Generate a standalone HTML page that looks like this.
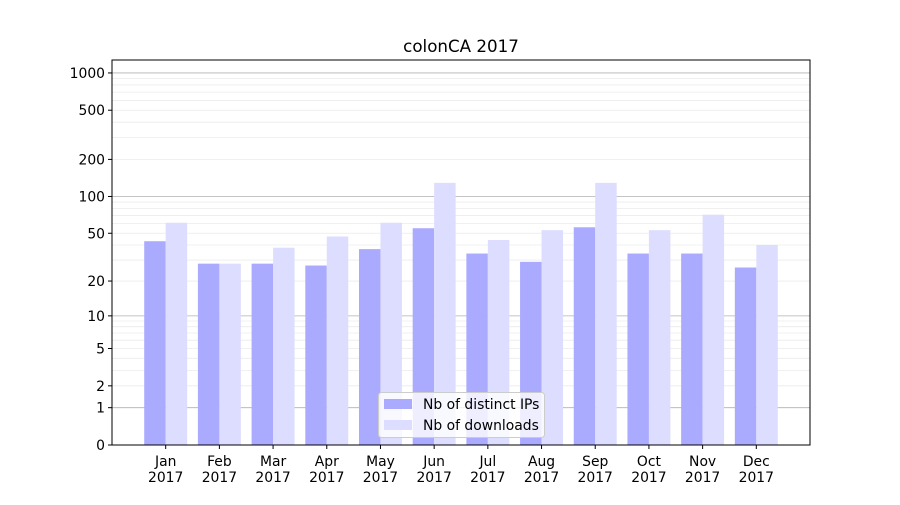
<!DOCTYPE html>
<html><head><meta charset="utf-8"><style>
body{margin:0;background:#fff}
svg{font-family:"DejaVu Sans","Liberation Sans",sans-serif}
</style></head><body>
<svg id="chart" width="900" height="500" viewBox="0 0 900 500">
<rect width="900" height="500" fill="#fff"/>
<text x="461" y="52" font-size="16.7" text-anchor="middle">colonCA 2017</text>
<g id="grid"></g><g id="bars"></g><g id="yticks"></g><g id="xticks"></g>
<rect x="112" y="60" width="698" height="385" fill="none" stroke="#000" stroke-width="1"/>
<g>
<rect x="378.5" y="392.5" width="166" height="45" rx="3" fill="#fff" fill-opacity="0.8" stroke="#ccc"/>
<rect x="384" y="399" width="28" height="10" fill="#aaaaff"/>
<text x="423" y="409" font-size="13.9">Nb of distinct IPs</text>
<rect x="384" y="420" width="28" height="10" fill="#ddddff"/>
<text x="423" y="430" font-size="13.9">Nb of downloads</text>
</g>
</svg>
<script>
const months = ["Jan","Feb","Mar","Apr","May","Jun","Jul","Aug","Sep","Oct","Nov","Dec"];
const ips = [43,28,28,27,37,55,34,29,56,34,34,26];
const downloads = [61,28,38,47,61,129,44,53,129,53,71,40];
const yTickLabels = [0,1,2,5,10,20,50,100,200,500,1000];
const NS="http://www.w3.org/2000/svg";
const L=112,R=810,B=445;
function yS(v){return B-124*Math.log10(1+v);}
function xS(i){return L+(R-L)*(i+1)/13;}
const bw=(R-L)/13*0.4;
function mk(tag,a,p){const e=document.createElementNS(NS,tag);for(const k in a)e.setAttribute(k,a[k]);p.appendChild(e);return e;}
const grid=document.getElementById('grid');
[1,10,100,1000].forEach(v=>{
  const l=mk('line',{x1:L,x2:R,y1:yS(v),y2:yS(v),stroke:'#b0b0b0','stroke-width':0.8},grid);
  
  
});
[1,10,100].forEach(d=>{for(let k=2;k<10;k++){const v=k*d;
  const l=mk('line',{x1:L,x2:R,y1:yS(v),y2:yS(v),stroke:'#ebebeb','stroke-width':0.8},grid);
  
  
}});
const bars=document.getElementById('bars');
months.forEach((m,i)=>{
  const x=xS(i);
  const a=mk('rect',{x:x-bw,y:yS(ips[i]),width:bw,height:B-yS(ips[i]),fill:'#aaaaff'},bars);
  
  
  const b=mk('rect',{x:x,y:yS(downloads[i]),width:bw,height:B-yS(downloads[i]),fill:'#ddddff'},bars);
  
  
});
const yt=document.getElementById('yticks');
yTickLabels.forEach(v=>{
  const y=yS(v);
  mk('line',{x1:L-4,x2:L,y1:y,y2:y,stroke:'#000'},yt);
  const t=mk('text',{x:L-7,y:y+5,'font-size':13.9,'text-anchor':'end'},yt);
  t.textContent=v;
  
  
});
const xt=document.getElementById('xticks');
months.forEach((m,i)=>{
  const x=xS(i);
  mk('line',{x1:x,x2:x,y1:B,y2:B+4,stroke:'#000'},xt);
  const t=mk('text',{x:x,y:466,'font-size':13.9,'text-anchor':'middle'},xt);
  
  
  const s1=mk('tspan',{x:x},t);s1.textContent=m;
  const s2=mk('tspan',{x:x,dy:16},t);s2.textContent='2017';
});
</script>
</body></html>
